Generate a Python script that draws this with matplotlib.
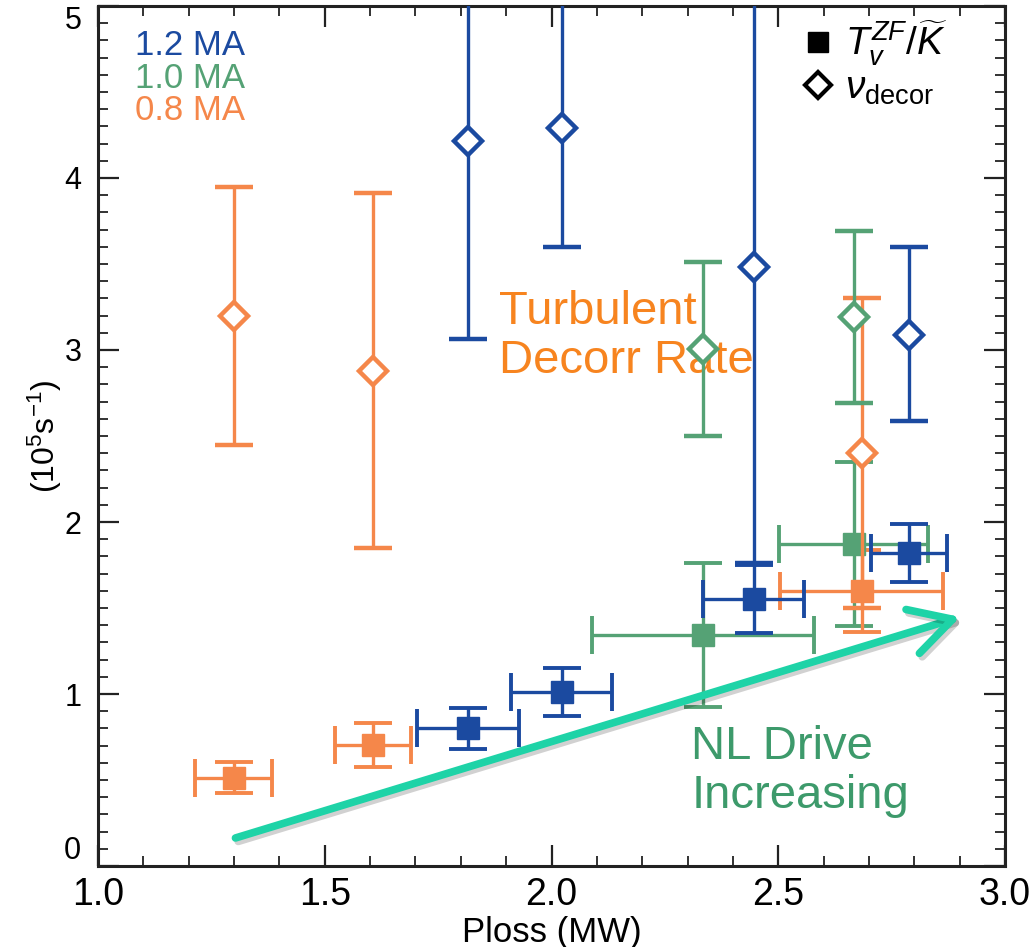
import matplotlib
matplotlib.use("Agg")
import matplotlib.pyplot as plt
import matplotlib.patheffects as pe
from matplotlib import font_manager
from matplotlib.lines import Line2D
from matplotlib.ticker import MultipleLocator

# ---- data ----
# 0.8 MA
p08 = [1.299, 1.607, 2.684]
sq08 = [0.512, 0.703, 1.60]
sq08_xerr = [0.085, 0.084, 0.180]
sq08_yerr = [0.09, 0.128, 0.24]
dm08 = [3.20, 2.88, 2.40]
dm08_err = [0.75, 1.03, 0.90]

# 1.0 MA
p10 = [2.334, 2.666]
sq10 = [1.343, 1.872]
sq10_xerr = [0.244, 0.165]
sq10_yerr = [0.42, 0.475]
dm10 = [3.006, 3.19]
dm10_err = [0.505, 0.50]

# 1.2 MA
p12 = [1.816, 2.022, 2.446, 2.789]
sq12 = [0.802, 1.012, 1.552, 1.82]
sq12_xerr = [0.112, 0.111, 0.111, 0.084]
sq12_yerr = [0.119, 0.142, 0.20, 0.166]
dm12 = [4.215, 4.29, 3.48, 3.09]
dm12_lo = [1.15, 0.69, 1.72, 0.50]
dm12_hi = [1.15, 0.80, 1.72, 0.51]

arrow_start = (1.303, 0.163)
arrow_end = (2.901, 1.448)

BLUE = "#1b4aa0"
GREEN = "#55a275"
ORANGE = "#f5874a"
ARROW = "#1ed3a7"


def pick(names):
    for n in names:
        try:
            font_manager.findfont(n, fallback_to_default=False)
            return n
        except Exception:
            pass
    return "DejaVu Sans"


SANS = pick(["Liberation Sans", "Arial", "DejaVu Sans"])

plt.rcParams["font.family"] = [SANS, "DejaVu Sans"]
plt.rcParams["mathtext.fontset"] = "custom"
plt.rcParams["mathtext.rm"] = SANS
plt.rcParams["mathtext.it"] = SANS + ":italic"

fig = plt.figure(figsize=(10.32, 9.47), dpi=100)
ax = fig.add_axes([0.095, 0.0855, 0.8789, 0.9082])

eb = dict(capsize=14, capthick=2.8, elinewidth=2.4, linestyle="none")

# squares (T_v^ZF / K)
for x, y, xe, ye, c in [(p10, sq10, sq10_xerr, sq10_yerr, GREEN),
                        (p08, sq08, sq08_xerr, sq08_yerr, ORANGE),
                        (p12, sq12, sq12_xerr, sq12_yerr, BLUE)]:
    ax.errorbar(x, y, xerr=xe, yerr=ye, fmt="s", ms=16.5, mfc=c, mec=c,
                ecolor=c, zorder=3, **eb)

# diamonds (nu_decor)
for x, y, ye, c in [(p08, dm08, dm08_err, ORANGE),
                    (p10, dm10, dm10_err, GREEN),
                    (p12, dm12, [dm12_lo, dm12_hi], BLUE)]:
    ax.errorbar(x, y, yerr=ye, fmt="D", ms=14, mfc="white", mec=c, mew=3.2,
                ecolor=c, zorder=4, **eb)

# trend arrow with soft drop shadow
ann = ax.annotate("", xy=arrow_end, xytext=arrow_start,
                  arrowprops=dict(arrowstyle="->,head_length=1.0,head_width=0.55",
                                  color=ARROW, lw=5.5, shrinkA=0, shrinkB=0,
                                  mutation_scale=30), zorder=5)
ann.arrow_patch.set_path_effects([
    pe.SimpleLineShadow(offset=(2, -2.5), shadow_color="black", alpha=0.18),
    pe.Normal()])

ax.text(1.884, 3.08, "Turbulent\nDecorr Rate", color="#f7841f", fontsize=34,
        ha="left", va="center", linespacing=1.15)
ax.text(2.308, 0.55, "NL Drive\nIncreasing", color="#3d9a6b", fontsize=34,
        ha="left", va="center", linespacing=1.15)

ax.text(1.081, 4.77, "1.2 MA", color=BLUE, fontsize=25, ha="left", va="center")
ax.text(1.081, 4.58, "1.0 MA", color=GREEN, fontsize=25, ha="left", va="center")
ax.text(1.081, 4.39, "0.8 MA", color=ORANGE, fontsize=25, ha="left", va="center")

handles = [Line2D([], [], ls="none", marker="s", ms=15, mfc="black", mec="black"),
           Line2D([], [], ls="none", marker="D", ms=13, mfc="white", mec="black", mew=3)]
ax.legend(handles, [r"$T_v^{ZF}/\widetilde{K}$", r"$\nu_{\rm decor}$"],
          loc="upper right", bbox_to_anchor=(0.963, 1.012), frameon=False,
          fontsize=28, handletextpad=0.1, handlelength=1.2, labelspacing=0.05,
          borderaxespad=0.2)

ax.set_xlim(1.0, 3.0)
ax.set_ylim(0, 5)
ax.xaxis.set_major_locator(MultipleLocator(0.5))
ax.xaxis.set_minor_locator(MultipleLocator(0.1))
ax.yaxis.set_major_locator(MultipleLocator(1))
ax.yaxis.set_minor_locator(MultipleLocator(0.1))
ax.set_xticks([1.0, 1.5, 2.0, 2.5, 3.0])
ax.set_xticklabels(["1.0", "1.5", "2.0", "2.5", "3.0"], fontsize=27)
ax.set_yticks([0, 1, 2, 3, 4, 5])
ax.set_yticklabels(["0", "1", "2", "3", "4", "5"], fontsize=22)
ylabs = ax.get_yticklabels()
ylabs[0].set_verticalalignment("bottom")
ylabs[-1].set_verticalalignment("top")
ax.tick_params(axis="both", which="both", direction="in", top=True, right=True,
               color="#222222")
ax.tick_params(which="major", length=15, width=1.6)
ax.tick_params(which="minor", length=7.5, width=1.3)
ax.tick_params(axis="x", pad=8)
ax.tick_params(axis="y", pad=12)
for s in ax.spines.values():
    s.set_linewidth(2.2)
    s.set_color("#222222")

ax.set_xlabel("Ploss (MW)", fontsize=25, labelpad=2)
ax.set_ylabel(r"(10$^{5}$s$^{-1}$)", fontsize=23, labelpad=0)

fig.savefig("out.png", dpi=100)
